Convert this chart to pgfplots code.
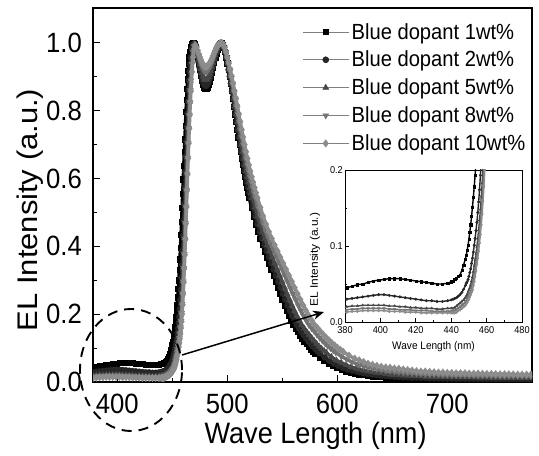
\documentclass[border=0pt]{standalone}
\usepackage{fontspec}
\setmainfont{Liberation Sans}[FakeStretch=0.92]
\newfontfamily\ylabfont{Liberation Sans}[FakeStretch=1.09]
\usepackage{pgfplots}
\usepackage{pgfplotstable}
\pgfplotsset{compat=1.18}
\usetikzlibrary{arrows.meta}

\pgfplotstableread{
x A B C D E
378 0.043 0.028 0.019 0.015 0.012
381 0.045 0.030 0.020 0.016 0.013
384 0.047 0.031 0.021 0.017 0.014
387 0.049 0.032 0.021 0.017 0.014
390 0.050 0.033 0.022 0.018 0.015
393 0.052 0.034 0.022 0.018 0.015
396 0.054 0.035 0.022 0.018 0.015
399 0.055 0.036 0.022 0.018 0.015
402 0.056 0.036 0.022 0.018 0.015
405 0.057 0.035 0.021 0.017 0.014
408 0.057 0.034 0.021 0.017 0.014
411 0.057 0.033 0.020 0.016 0.014
414 0.056 0.032 0.020 0.016 0.013
417 0.055 0.031 0.019 0.016 0.013
420 0.054 0.030 0.019 0.015 0.013
423 0.053 0.029 0.018 0.015 0.012
426 0.052 0.028 0.018 0.015 0.012
429 0.051 0.028 0.018 0.014 0.012
432 0.050 0.027 0.017 0.014 0.012
435 0.050 0.027 0.017 0.014 0.012
438 0.051 0.028 0.018 0.014 0.012
440 0.053 0.029 0.018 0.014 0.012
441 0.054 0.030 0.018 0.015 0.012
442 0.056 0.031 0.019 0.015 0.012
443 0.058 0.032 0.021 0.017 0.013
444 0.060 0.034 0.023 0.018 0.015
445 0.062 0.036 0.025 0.020 0.016
446 0.068 0.039 0.027 0.022 0.018
447 0.075 0.043 0.029 0.024 0.020
448 0.083 0.048 0.032 0.026 0.022
448.5 0.088 0.051 0.034 0.028 0.024
449 0.094 0.053 0.036 0.031 0.026
449.5 0.101 0.056 0.039 0.033 0.028
450 0.109 0.060 0.042 0.036 0.030
450.5 0.118 0.065 0.045 0.038 0.033
451 0.128 0.070 0.049 0.041 0.036
451.5 0.139 0.077 0.054 0.045 0.039
452 0.151 0.084 0.059 0.050 0.042
452.5 0.164 0.092 0.066 0.055 0.048
453 0.178 0.101 0.074 0.063 0.053
453.5 0.193 0.110 0.082 0.070 0.060
454 0.210 0.120 0.090 0.078 0.067
454.5 0.229 0.131 0.099 0.087 0.076
455 0.250 0.144 0.110 0.096 0.084
455.5 0.274 0.158 0.121 0.106 0.093
456 0.300 0.174 0.134 0.118 0.104
456.5 0.330 0.193 0.148 0.130 0.115
457 0.362 0.215 0.165 0.145 0.128
457.5 0.397 0.242 0.183 0.161 0.142
458 0.434 0.272 0.206 0.180 0.159
458.5 0.473 0.307 0.233 0.203 0.178
459 0.514 0.346 0.264 0.230 0.200
459.5 0.556 0.387 0.299 0.261 0.228
460 0.598 0.431 0.338 0.296 0.259
460.5 0.638 0.477 0.380 0.336 0.294
461 0.678 0.525 0.424 0.377 0.334
461.5 0.716 0.573 0.471 0.422 0.375
462 0.757 0.620 0.519 0.469 0.420
462.5 0.796 0.666 0.568 0.517 0.467
463 0.832 0.710 0.615 0.566 0.516
463.5 0.864 0.752 0.662 0.614 0.565
464 0.893 0.792 0.706 0.661 0.613
464.5 0.918 0.828 0.749 0.705 0.660
465 0.940 0.861 0.789 0.748 0.704
465.5 0.958 0.891 0.826 0.788 0.747
466 0.973 0.916 0.859 0.826 0.788
466.5 0.982 0.938 0.889 0.860 0.826
467 0.990 0.957 0.915 0.889 0.858
468 0.998 0.982 0.957 0.938 0.915
469 1.000 0.994 0.982 0.973 0.958
470 0.996 0.998 0.995 0.990 0.982
471 0.988 0.989 0.990 0.992 0.993
472 0.975 0.977 0.980 0.984 0.987
473 0.958 0.961 0.966 0.974 0.978
474 0.940 0.944 0.951 0.962 0.969
475 0.922 0.927 0.937 0.951 0.959
476 0.905 0.912 0.923 0.940 0.951
477 0.890 0.898 0.911 0.931 0.943
478 0.878 0.887 0.901 0.923 0.937
479 0.869 0.878 0.894 0.917 0.932
480 0.865 0.874 0.891 0.915 0.930
481 0.865 0.874 0.891 0.915 0.930
482 0.869 0.878 0.894 0.917 0.932
483 0.876 0.885 0.900 0.922 0.936
484 0.886 0.894 0.908 0.928 0.941
485 0.898 0.905 0.917 0.936 0.947
486 0.912 0.918 0.929 0.945 0.954
487 0.927 0.932 0.941 0.954 0.962
488 0.942 0.946 0.953 0.963 0.970
489 0.956 0.959 0.964 0.972 0.977
490 0.969 0.971 0.975 0.980 0.984
491 0.980 0.981 0.984 0.987 0.990
492 0.989 0.990 0.991 0.993 0.994
493 0.996 0.996 0.997 0.997 0.998
494 1.000 1.000 1.000 1.000 1.000
495 1.000 1.000 1.000 1.000 1.000
}\lowtab

\pgfplotstableread{
x y
496 0.995
497 0.986
498 0.973
499 0.957
500 0.940
501 0.921
502 0.901
503 0.880
504 0.858
505 0.836
506 0.813
507 0.790
508 0.767
509 0.744
510 0.722
511 0.700
512 0.679
513 0.659
514 0.640
515 0.622
516 0.605
517 0.589
518 0.573
519 0.558
520 0.543
522 0.515
524 0.489
526 0.465
528 0.443
530 0.423
532 0.404
534 0.386
536 0.368
538 0.350
540 0.332
542 0.314
544 0.296
546 0.278
548 0.260
550 0.243
552 0.226
554 0.210
556 0.195
558 0.181
560 0.168
562 0.158
564 0.148
566 0.138
568 0.129
570 0.120
572 0.112
574 0.104
576 0.097
578 0.090
580 0.084
584 0.072
588 0.062
592 0.054
596 0.047
600 0.041
604 0.036
608 0.032
612 0.029
616 0.026
620 0.023
624 0.021
628 0.019
632 0.017
636 0.016
640 0.015
644 0.014
648 0.013
652 0.012
656 0.012
660 0.011
664 0.011
668 0.010
672 0.010
676 0.010
680 0.009
684 0.009
688 0.009
692 0.009
696 0.008
700 0.008
704 0.008
708 0.008
712 0.008
716 0.008
720 0.008
724 0.008
728 0.008
732 0.007
736 0.007
740 0.007
744 0.007
748 0.007
752 0.007
756 0.007
760 0.007
764 0.007
768 0.007
772 0.007
776 0.007
}\hiA

\pgfplotstableread{
x y
496.05 0.995
497.1 0.986
498.15 0.973
499.2 0.957
500.25 0.940
501.3 0.921
502.35 0.901
503.4 0.880
504.45 0.858
505.5 0.836
506.55 0.813
507.6 0.790
508.65 0.767
509.7 0.744
510.75 0.722
511.8 0.700
512.85 0.679
513.9 0.659
514.95 0.640
516 0.622
517.05 0.605
518.1 0.589
519.15 0.573
520.2 0.558
521.25 0.543
523.35 0.515
525.45 0.489
527.55 0.465
529.65 0.443
531.75 0.423
533.85 0.404
535.95 0.386
538.05 0.368
540.15 0.350
542.25 0.332
544.35 0.314
546.45 0.296
548.55 0.278
550.65 0.260
552.75 0.243
554.85 0.226
556.95 0.210
559.05 0.195
561.15 0.181
563.25 0.168
565.35 0.158
567.45 0.148
569.55 0.138
571.65 0.129
573.75 0.120
575.85 0.112
577.95 0.105
580.05 0.098
582.15 0.091
584.25 0.085
588.45 0.073
592.65 0.063
596.85 0.055
601.05 0.048
605.25 0.042
609.45 0.037
613.65 0.034
617.85 0.031
620 0.029
624 0.026
628 0.024
632 0.022
636 0.0205
640 0.019
644 0.018
648 0.017
652 0.016
656 0.015
660 0.014
664 0.014
668 0.013
672 0.013
676 0.012
680 0.012
684 0.011
688 0.011
692 0.011
696 0.011
700 0.0105
704 0.0105
708 0.010
712 0.010
716 0.010
720 0.010
724 0.010
728 0.010
732 0.0095
736 0.0095
740 0.0095
744 0.009
748 0.009
752 0.009
756 0.009
760 0.009
764 0.009
768 0.009
772 0.009
776 0.009
}\hiB

\pgfplotstableread{
x y
496.12 0.995
497.24 0.986
498.36 0.973
499.48 0.957
500.6 0.940
501.72 0.921
502.84 0.901
503.96 0.880
505.08 0.858
506.2 0.836
507.32 0.813
508.44 0.790
509.56 0.767
510.68 0.744
511.8 0.722
512.92 0.700
514.04 0.679
515.16 0.659
516.28 0.640
517.4 0.622
518.52 0.605
519.64 0.589
520.76 0.573
521.88 0.558
523 0.543
525.24 0.515
527.48 0.489
529.72 0.465
531.96 0.443
534.2 0.423
536.44 0.404
538.68 0.386
540.92 0.368
543.16 0.350
545.4 0.332
547.64 0.314
549.88 0.296
552.12 0.278
554.36 0.260
556.6 0.243
558.84 0.226
561.08 0.210
563.32 0.195
565.56 0.181
567.8 0.168
570.04 0.158
572.28 0.148
574.52 0.139
576.76 0.130
579 0.121
581.24 0.113
583.48 0.105
585.72 0.098
587.96 0.092
590.2 0.086
594.68 0.074
599.16 0.064
603.64 0.057
608.12 0.050
612.6 0.044
617.08 0.040
620 0.037
624 0.034
628 0.0315
632 0.029
636 0.0275
640 0.026
644 0.024
648 0.022
652 0.021
656 0.020
660 0.0194
664 0.0185
668 0.0176
672 0.017
676 0.017
680 0.016
684 0.016
688 0.0155
692 0.015
696 0.015
700 0.015
704 0.0145
708 0.0145
712 0.014
716 0.014
720 0.014
724 0.014
728 0.0135
732 0.0135
736 0.0135
740 0.013
744 0.013
748 0.013
752 0.013
756 0.013
760 0.012
764 0.012
768 0.012
772 0.012
776 0.012
}\hiC

\pgfplotstableread{
x y
496.22 0.995
497.44 0.986
498.66 0.973
499.88 0.957
501.1 0.940
502.32 0.921
503.54 0.901
504.76 0.880
505.98 0.858
507.2 0.836
508.42 0.813
509.64 0.790
510.86 0.767
512.08 0.744
513.3 0.722
514.52 0.700
515.74 0.679
516.96 0.659
518.18 0.640
519.4 0.622
520.62 0.605
521.84 0.589
523.06 0.573
524.28 0.558
525.5 0.543
527.94 0.515
530.38 0.489
532.82 0.465
535.26 0.443
537.7 0.423
540.14 0.404
542.58 0.386
545.02 0.368
547.46 0.350
549.9 0.332
552.34 0.314
554.78 0.296
557.22 0.278
559.66 0.260
562.1 0.243
564.54 0.226
566.98 0.210
569.42 0.195
571.86 0.181
574.3 0.168
576.74 0.158
579.18 0.149
581.62 0.139
584.06 0.130
586.5 0.122
588.94 0.114
591.38 0.106
593.82 0.100
596.26 0.093
598.7 0.087
603.58 0.076
608.46 0.067
613.34 0.059
618.22 0.053
620 0.051
624 0.047
628 0.043
632 0.041
636 0.038
640 0.036
644 0.034
648 0.033
652 0.031
656 0.0295
660 0.028
664 0.027
668 0.026
672 0.025
676 0.024
680 0.023
684 0.0225
688 0.022
692 0.022
696 0.021
700 0.021
704 0.0205
708 0.020
712 0.020
716 0.020
720 0.0195
724 0.019
728 0.019
732 0.019
736 0.019
740 0.0185
744 0.0185
748 0.018
752 0.018
756 0.018
760 0.018
764 0.018
768 0.018
772 0.018
776 0.017
}\hiD

\pgfplotstableread{
x y
496.3 0.995
497.6 0.986
498.9 0.973
500.2 0.957
501.5 0.940
502.8 0.921
504.1 0.901
505.4 0.880
506.7 0.858
508 0.836
509.3 0.813
510.6 0.790
511.9 0.767
513.2 0.744
514.5 0.722
515.8 0.700
517.1 0.679
518.4 0.659
519.7 0.640
521 0.622
522.3 0.605
523.6 0.589
524.9 0.573
526.2 0.558
527.5 0.543
530.1 0.515
532.7 0.489
535.3 0.465
537.9 0.443
540.5 0.423
543.1 0.404
545.7 0.386
548.3 0.368
550.9 0.350
553.5 0.332
556.1 0.314
558.7 0.296
561.3 0.278
563.9 0.260
566.5 0.243
569.1 0.226
571.7 0.210
574.3 0.195
576.9 0.181
579.5 0.168
582.1 0.159
584.7 0.149
587.3 0.140
589.9 0.131
592.5 0.123
595.1 0.115
597.7 0.108
600.3 0.101
602.9 0.095
605.5 0.089
610.7 0.078
615.9 0.069
620 0.064
624 0.059
628 0.054
632 0.051
636 0.048
640 0.045
644 0.043
648 0.042
652 0.040
656 0.039
660 0.037
664 0.0355
668 0.034
672 0.032
676 0.031
680 0.031
684 0.030
688 0.029
692 0.028
696 0.028
700 0.027
704 0.027
708 0.026
712 0.026
716 0.026
720 0.025
724 0.025
728 0.025
732 0.0245
736 0.024
740 0.024
744 0.0235
748 0.023
752 0.023
756 0.023
760 0.0225
764 0.022
768 0.022
772 0.022
776 0.022
}\hiE

\pgfplotsset{
  sA/.style={draw=black, line width=3.4bp, mark=square*, mark size=2.6bp,
    mark options={draw=black, fill=black, line width=0.4bp}},
  sB/.style={draw=black!85, line width=3.4bp, mark=*, mark size=3.1bp,
    mark options={draw=black!85, fill=black!85, line width=0.4bp}},
  sC/.style={draw=black!72, line width=3.4bp, mark=triangle*, mark size=3.5bp,
    mark options={draw=black!72, fill=black!72, line width=0.4bp}},
  sD/.style={draw=black!55, line width=3.4bp, mark=triangle*, mark size=3.5bp,
    mark options={draw=black!55, fill=black!55, line width=0.4bp, rotate=180}},
  sE/.style={draw=black!45, line width=3.4bp, mark=diamond*, mark size=3.7bp,
    mark options={draw=black!45, fill=black!45, line width=0.4bp}},
}

\begin{document}
\begin{tikzpicture}[x=1bp,y=1bp]
\path[use as bounding box] (0,0) rectangle (539,456);
\begin{axis}[
  at={(93bp,74bp)}, anchor=south west,
  width=439bp, height=374bp, scale only axis,
  xmin=378, xmax=777, ymin=0, ymax=1.103,
  axis line style={line width=1.3bp},
  every tick/.style={line width=1.1bp, black},
  tick pos=left, tick align=inside,
  major tick length=7bp, minor tick length=4bp,
  xtick={400,500,600,700}, minor xtick={450,550,650,750},
  ytick={0,0.2,0.4,0.6,0.8,1.0}, minor ytick={0.1,0.3,0.5,0.7,0.9},
  /pgf/number format/assume math mode=true,
  tick label style={font=\fontsize{28}{30}\selectfont},
  xticklabel style={inner sep=0pt, anchor=north, yshift=-12bp},
  yticklabel style={inner sep=0pt, anchor=east, xshift=-11bp,
    /pgf/number format/.cd, fixed, fixed zerofill, precision=1},
  xlabel={Wave Length (nm)},
  xlabel style={font=\fontsize{29.6}{32}\selectfont, at={(axis description cs:0.507,-0.164)}, anchor=base},
  ylabel={EL Intensity (a.u.)},
  ylabel style={font=\ylabfont\fontsize{28.5}{30}\selectfont, at={(axis description cs:-0.1435,0.46)}, anchor=center},
  clip marker paths=true,
  legend image code/.code={\draw[#1, line width=0.7bp, draw=black!50, mark repeat=2, mark phase=2]
    plot coordinates {(0bp,0bp) (23bp,0bp) (46bp,0bp)};},
  legend cell align=left,
  legend style={at={(axis description cs:0.477,0.966)}, anchor=north west,
    draw=none, fill=none, inner sep=0pt, outer sep=0pt, row sep=5.5bp,
    font=\fontsize{22}{26}\selectfont, nodes={inner sep=2.5bp}},
]
\addplot[sA] table[x=x, y=A] {\lowtab}; \addlegendentry{Blue dopant 1wt\%}
\addplot[sA, forget plot] table[x=x, y=y] {\hiA};
\addplot[sB] table[x=x, y=B] {\lowtab}; \addlegendentry{Blue dopant 2wt\%}
\addplot[sB, forget plot] table[x=x, y=y] {\hiB};
\addplot[sC] table[x=x, y=C] {\lowtab}; \addlegendentry{Blue dopant 5wt\%}
\addplot[sC, forget plot] table[x=x, y=y] {\hiC};
\addplot[sD] table[x=x, y=D] {\lowtab}; \addlegendentry{Blue dopant 8wt\%}
\addplot[sD, forget plot] table[x=x, y=y] {\hiD};
\addplot[sE] table[x=x, y=E] {\lowtab}; \addlegendentry{Blue dopant 10wt\%}
\addplot[sE, forget plot] table[x=x, y=y] {\hiE};
\end{axis}

\begin{axis}[
  at={(345bp,134bp)}, anchor=south west,
  width=177bp, height=152bp, scale only axis,
  xmin=380, xmax=480, ymin=0, ymax=0.2,
  axis background/.style={fill=white},
  axis line style={line width=0.8bp},
  every tick/.style={line width=0.7bp, black},
  tick pos=left, tick align=inside,
  major tick length=3.5bp, minor tick length=2bp,
  xtick={380,400,420,440,460,480}, minor xtick={390,410,430,450,470},
  ytick={0,0.1,0.2}, minor ytick={0.05,0.15},
  /pgf/number format/assume math mode=true,
  tick label style={font=\fontsize{10}{11}\selectfont},
  xticklabel style={inner sep=0pt, anchor=north, yshift=-4.5bp},
  yticklabel style={inner sep=0pt, anchor=east, xshift=-2bp,
    /pgf/number format/.cd, fixed, fixed zerofill, precision=1},
  xlabel={Wave Length (nm)},
  xlabel style={font=\fontsize{11}{12}\selectfont, at={(axis description cs:0.5,-0.16)}, anchor=center},
  ylabel={EL Intensity (a.u.)},
  ylabel style={font=\ylabfont\fontsize{11}{12}\selectfont, at={(axis description cs:-0.17,0.41)}, anchor=center},
  clip marker paths=true,
  restrict x to domain=376:484,
]
\addplot[sA, line width=1.4bp, mark size=1.1bp] table[x=x, y=A] {\lowtab};
\addplot[sB, line width=1.4bp, mark size=1.3bp] table[x=x, y=B] {\lowtab};
\addplot[sC, line width=1.4bp, mark size=1.4bp] table[x=x, y=C] {\lowtab};
\addplot[sD, line width=1.4bp, mark size=1.4bp] table[x=x, y=D] {\lowtab};
\addplot[sE, line width=1.4bp, mark size=1.5bp] table[x=x, y=E] {\lowtab};
\end{axis}

\draw[line width=1.9bp, dash pattern=on 10bp off 7bp] (131,86) ellipse [x radius=51, y radius=61];
\draw[line width=1.5bp, -{Stealth[length=11bp, width=9bp]}] (182,101) -- (324,144);
\end{tikzpicture}
\end{document}
